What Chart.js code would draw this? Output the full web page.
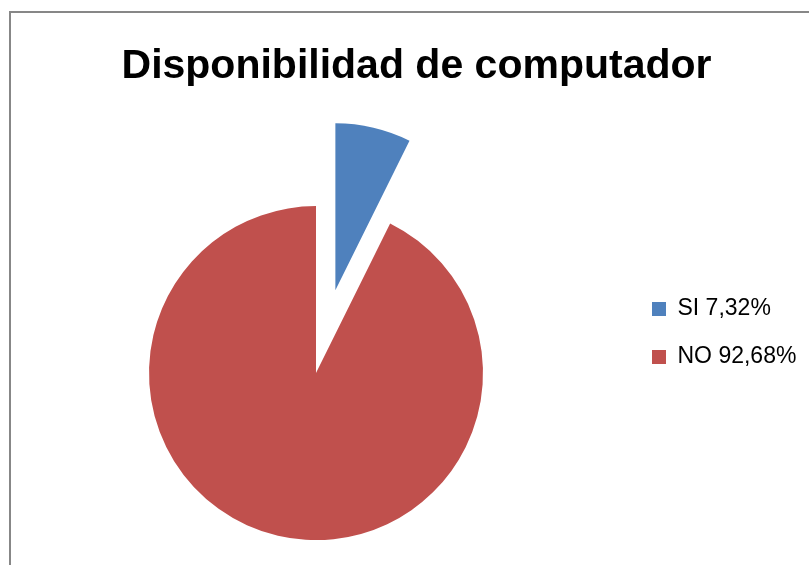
<!DOCTYPE html>
<html>
<head>
<meta charset="utf-8">
<script src="https://cdn.jsdelivr.net/npm/chart.js@4/dist/chart.umd.min.js"></script>
<style>
    html, body { margin: 0; padding: 0; background: #fff; overflow: hidden; }
    #wrap { position: relative; width: 809px; height: 565px; overflow: hidden; }
    #frame {
        position: absolute; left: 9px; top: 11px; width: 900px; height: 700px;
        border-left: 2px solid #878787; border-top: 2px solid #878787;
        pointer-events: none;
    }
</style>
</head>
<body>
<div id="wrap">
    <canvas id="pieChart" width="828" height="654"></canvas>
    <div id="frame"></div>
</div>
<script>
// Data
const titleText = 'Disponibilidad de computador';
const categories = ['SI', 'NO'];
const percentages = [7.32, 92.68];
const sliceColors = ['#4F81BD', '#C0504D'];
const explode = [85, 0]; // pulled out slice, in px

const legendLabels = categories.map((c, i) => c + ' ' + percentages[i].toFixed(2).replace('.', ',') + '%');

// pull exploded slices out along their middle angle (keeps the radius as is)
const explodePlugin = {
    id: 'explode',
    afterDatasetsUpdate(chart) {
        chart.getDatasetMeta(0).data.forEach((arc, i) => {
            const d = explode[i];
            if (!d) return;
            const mid = (arc.startAngle + arc.endAngle) / 2;
            arc.x += Math.cos(mid) * d;
            arc.y += Math.sin(mid) * d;
        });
    }
};

// fixed legend width so the plot and title sit like the original
const legendWidthPlugin = {
    id: 'legendWidth',
    beforeUpdate(chart) {
        const legend = chart.legend;
        if (!legend || legend._fixedFit) return;
        const fit = legend.fit;
        legend.fit = function () {
            fit.call(this);
            this.width = 201;
        };
        legend._fixedFit = true;
    }
};

Chart.defaults.color = '#000';
Chart.defaults.font.family = '"Liberation Sans", Arial, sans-serif';

const content = document.getElementById('pieChart').getContext('2d');
new Chart(content, {
    type: 'pie',
    data: {
        labels: legendLabels,
        datasets: [{
            data: percentages,
            backgroundColor: sliceColors,
            borderWidth: 0
        }]
    },
    options: {
        responsive: false,
        animation: false,
        radius: 167,
        layout: { padding: { top: 12, left: 5, right: 0, bottom: 0 } },
        plugins: {
            title: {
                display: true,
                text: titleText,
                color: '#000',
                font: { size: 41, weight: 'bold' },
                padding: { top: 30, bottom: 1 }
            },
            legend: {
                position: 'right',
                labels: {
                    boxWidth: 14,
                    boxHeight: 14,
                    padding: 25,
                    color: '#000',
                    font: { size: 23 }
                }
            },
            tooltip: { enabled: false }
        }
    },
    plugins: [explodePlugin, legendWidthPlugin]
});
</script>
</body>
</html>
